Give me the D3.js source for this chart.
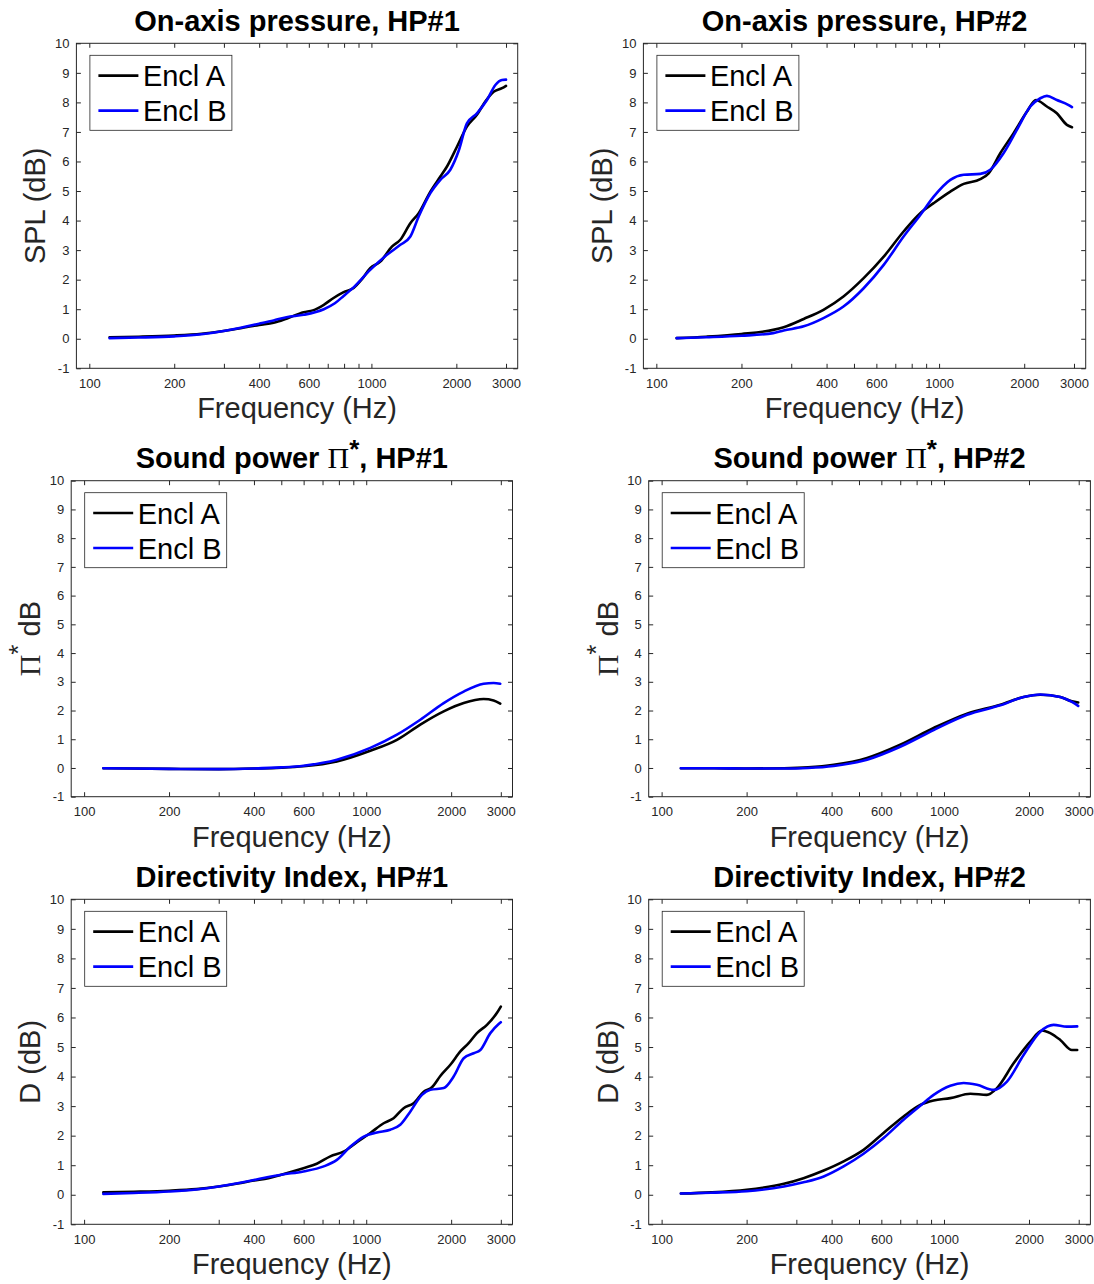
<!DOCTYPE html>
<html><head><meta charset="utf-8">
<script src="https://cdn.jsdelivr.net/npm/d3@7"></script>
<style>body{margin:0;background:#fff}</style>
</head><body>
<svg id="chart" width="1094" height="1284"></svg>
<script>
// ---------- data ----------
const xTickValues = [100,200,300,400,500,600,700,800,900,1000,2000,3000];
const xTickLabels = ["100","200","","400","","600","","","","1000","2000","3000"];
const yTickValues = [-1,0,1,2,3,4,5,6,7,8,9,10];
const seriesNames = ["Encl A","Encl B"];

// On-axis pressure, HP#1
const spl1A_f = [118,150,200,250,303,350,400,450,500,575,620,678,734,797,865,926,990,1075,1182,1266,1374,1471,1618,1755,1853,2010,2180,2366,2533,2712,2903,3000];
const spl1A_v = [0.05,0.07,0.11,0.17,0.27,0.37,0.47,0.54,0.68,0.90,0.96,1.15,1.38,1.58,1.72,2.02,2.39,2.61,3.12,3.35,3.91,4.25,4.98,5.49,5.83,6.50,7.18,7.58,8.03,8.36,8.48,8.56];
const spl1B_f = [118,150,200,250,303,350,400,450,500,575,678,742,797,877,990,1135,1266,1374,1471,1618,1755,1904,2040,2180,2366,2568,2750,2903,3000];
const spl1B_v = [0.02,0.04,0.08,0.15,0.27,0.39,0.51,0.62,0.73,0.81,1.00,1.20,1.45,1.80,2.33,2.84,3.18,3.46,4.14,4.93,5.38,5.72,6.37,7.29,7.63,8.08,8.59,8.76,8.77];

// On-axis pressure, HP#2
const spl2A_f = [118,150,200,259,282,332,390,459,541,637,749,858,957,1096,1222,1399,1497,1646,1835,2046,2200,2405,2609,2831,2951];
const spl2A_v = [0.02,0.07,0.16,0.30,0.39,0.67,0.98,1.43,2.05,2.78,3.63,4.25,4.59,4.98,5.24,5.40,5.60,6.28,6.96,7.69,8.08,7.86,7.63,7.24,7.16];
const spl2B_f = [118,150,200,259,282,332,390,459,541,637,749,858,957,1096,1222,1399,1517,1690,1884,2102,2280,2405,2609,2872,2951];
const spl2B_v = [0.02,0.05,0.10,0.19,0.28,0.42,0.70,1.09,1.71,2.50,3.46,4.19,4.81,5.38,5.55,5.58,5.72,6.28,7.07,7.86,8.14,8.22,8.08,7.91,7.84];

// Sound power, HP#1
const pow1A_f = [117,150,200,300,400,500,599,787,1034,1285,1555,1882,2216,2607,2829,2986];
const pow1A_v = [-0.01,-0.02,-0.03,-0.04,-0.02,0.01,0.06,0.23,0.60,0.98,1.51,1.97,2.26,2.40,2.35,2.24];
const pow1B_f = [117,150,200,300,400,500,599,787,1034,1285,1555,1882,2216,2607,2829,2986];
const pow1B_v = [-0.01,-0.02,-0.03,-0.04,-0.02,0.02,0.08,0.29,0.70,1.16,1.68,2.26,2.66,2.93,2.96,2.93];

// Sound power, HP#2
const pow2A_f = [117,150,200,271,330,407,534,700,919,1206,1583,1914,2193,2581,2838,2987];
const pow2A_v = [-0.01,-0.01,-0.02,-0.01,0.02,0.11,0.35,0.81,1.39,1.89,2.20,2.47,2.55,2.47,2.32,2.28];
const pow2B_f = [117,150,200,271,330,407,534,700,919,1206,1583,1914,2193,2581,2838,2987];
const pow2B_v = [-0.01,-0.01,-0.02,-0.02,0.00,0.07,0.29,0.74,1.32,1.85,2.18,2.47,2.56,2.47,2.30,2.16];

// Directivity index, HP#1
const di1A_f = [117,150,200,250,300,350,400,450,500,599,668,746,831,927,1034,1153,1250,1357,1472,1599,1710,1831,1987,2156,2307,2469,2679,2908,3000];
const di1A_v = [0.08,0.10,0.135,0.19,0.28,0.38,0.48,0.56,0.68,0.90,1.05,1.30,1.46,1.78,2.09,2.42,2.59,2.93,3.10,3.49,3.64,4.02,4.40,4.85,5.13,5.47,5.75,6.16,6.37];
const di1B_f = [117,150,200,250,300,350,400,450,500,599,707,787,879,980,1092,1217,1320,1434,1576,1687,1882,2041,2216,2403,2538,2754,2948,3000];
const di1B_v = [0.03,0.06,0.11,0.18,0.28,0.39,0.50,0.60,0.68,0.79,0.96,1.18,1.63,1.97,2.11,2.20,2.37,2.82,3.38,3.55,3.61,4.00,4.62,4.79,4.90,5.47,5.78,5.84];

// Directivity index, HP#2
const di2A_f = [117,150,200,271,318,375,441,519,611,719,824,919,1053,1240,1418,1540,1764,2022,2224,2379,2581,2838,2963];
const di2A_v = [0.04,0.08,0.17,0.37,0.56,0.82,1.13,1.52,2.09,2.65,3.04,3.19,3.27,3.42,3.38,3.61,4.45,5.18,5.56,5.47,5.24,4.90,4.90];
const di2B_f = [117,150,200,271,318,375,441,519,611,719,824,919,1053,1174,1308,1499,1671,1914,2193,2444,2724,2963];
const di2B_v = [0.04,0.07,0.12,0.28,0.42,0.62,0.96,1.39,1.92,2.54,3.01,3.38,3.69,3.78,3.72,3.55,3.83,4.73,5.52,5.75,5.69,5.70];

// ---------- layout ----------
const SANS = "'Liberation Sans', Arial, Helvetica, sans-serif";
const SERIF = "'Liberation Serif', 'Times New Roman', serif";
const AXC = "#262626";
const colors = ["#000000", "#0000ff"];

const panels = [
  {x0:76.4, x1:517.7, y0:43.3, y1:368.3,
   title:[{t:"On-axis pressure, HP#1"}], ylab:[{t:"SPL (dB)"}],
   A:[spl1A_f,spl1A_v], B:[spl1B_f,spl1B_v]},
  {x0:643.4, x1:1085.7, y0:43.3, y1:368.3,
   title:[{t:"On-axis pressure, HP#2"}], ylab:[{t:"SPL (dB)"}],
   A:[spl2A_f,spl2A_v], B:[spl2B_f,spl2B_v]},
  {x0:71.2, x1:512.5, y0:480.7, y1:796.7,
   title:[{t:"Sound power "},{t:"\u03A0",serif:true},{t:"*",sup:true},{t:", HP#1"}],
   ylab:[{t:"\u03A0",serif:true},{t:"*",sup:true},{t:" dB"}],
   A:[pow1A_f,pow1A_v], B:[pow1B_f,pow1B_v]},
  {x0:648.7, x1:1090.4, y0:480.7, y1:796.7,
   title:[{t:"Sound power "},{t:"\u03A0",serif:true},{t:"*",sup:true},{t:", HP#2"}],
   ylab:[{t:"\u03A0",serif:true},{t:"*",sup:true},{t:" dB"}],
   A:[pow2A_f,pow2A_v], B:[pow2B_f,pow2B_v]},
  {x0:71.2, x1:512.5, y0:899.3, y1:1224.3,
   title:[{t:"Directivity Index, HP#1"}], ylab:[{t:"D (dB)"}],
   A:[di1A_f,di1A_v], B:[di1B_f,di1B_v]},
  {x0:648.7, x1:1090.4, y0:899.3, y1:1224.3,
   title:[{t:"Directivity Index, HP#2"}], ylab:[{t:"D (dB)"}],
   A:[di2A_f,di2A_v], B:[di2B_f,di2B_v]}
];

const svg = d3.select("#chart");

function addParts(textSel, parts, raise) {
  let raised = false;
  parts.forEach(p => {
    const ts = textSel.append("tspan").text(p.t);
    if (p.serif) { ts.attr("font-family", SERIF).attr("font-weight", "normal").attr("font-size", 30); }
    if (p.sup) { ts.attr("dy", -raise).attr("font-size", 26); raised = true; }
    else if (raised) { ts.attr("dy", raise); raised = false; }
  });
}

panels.forEach(p => {
  const x = d3.scaleLog().domain([90, 3300]).range([p.x0, p.x1]);
  const y = d3.scaleLinear().domain([-1, 10]).range([p.y1, p.y0]);
  const g = svg.append("g");

  const styleAxis = sel => {
    sel.attr("color", AXC).attr("font-family", SANS).attr("font-size", 13);
    sel.select(".domain").remove();
    sel.selectAll(".tick line").attr("stroke-width", 1);
    sel.selectAll(".tick text").attr("fill", AXC);
  };
  g.append("g").attr("transform", `translate(0,${p.y1})`)
    .call(d3.axisBottom(x).tickValues(xTickValues).tickFormat((d,i)=>xTickLabels[i])
      .tickSizeInner(-4.5).tickSizeOuter(0).tickPadding(10.5)).call(styleAxis);
  g.append("g").attr("transform", `translate(0,${p.y0})`)
    .call(d3.axisTop(x).tickValues(xTickValues).tickFormat("")
      .tickSizeInner(-4.5).tickSizeOuter(0)).call(styleAxis);
  g.append("g").attr("transform", `translate(${p.x0},0)`)
    .call(d3.axisLeft(y).tickValues(yTickValues).tickFormat(d => String(d))
      .tickSizeInner(-4.5).tickSizeOuter(0).tickPadding(7)).call(styleAxis);
  g.append("g").attr("transform", `translate(${p.x1},0)`)
    .call(d3.axisRight(y).tickValues(yTickValues).tickFormat("")
      .tickSizeInner(-4.5).tickSizeOuter(0)).call(styleAxis);

  g.append("rect").attr("x", p.x0).attr("y", p.y0)
    .attr("width", p.x1 - p.x0).attr("height", p.y1 - p.y0)
    .attr("fill", "none").attr("stroke", AXC).attr("stroke-width", 1);

  const line = d3.line().x(d => x(d[0])).y(d => y(d[1])).curve(d3.curveMonotoneX);
  [p.A, p.B].forEach((s, i) => {
    const pts = s[0].map((f, k) => [f, s[1][k]]);
    g.append("path").datum(pts).attr("d", line)
      .attr("fill", "none").attr("stroke", colors[i]).attr("stroke-width", 2.6)
      .attr("stroke-linejoin", "round").attr("stroke-linecap", "round");
  });

  const cx = (p.x0 + p.x1) / 2, cy = (p.y0 + p.y1) / 2;
  const t = g.append("text").attr("x", cx).attr("y", p.y0 - 12.5)
    .attr("text-anchor", "middle").attr("font-family", SANS)
    .attr("font-weight", "bold").attr("font-size", 29).attr("fill", "#000");
  addParts(t, p.title, 10);

  g.append("text").attr("x", cx).attr("y", p.y1 + 50)
    .attr("text-anchor", "middle").attr("font-family", SANS)
    .attr("font-size", 29).attr("fill", AXC).text("Frequency (Hz)");
  const yl = g.append("text")
    .attr("transform", `translate(${p.x0 - 31},${cy}) rotate(-90)`)
    .attr("text-anchor", "middle").attr("font-family", SANS)
    .attr("font-size", 29).attr("fill", AXC);
  addParts(yl, p.ylab, 13);

  const lx = p.x0 + 13.5, ly = p.y0 + 12;
  const lg = g.append("g");
  lg.append("rect").attr("x", lx).attr("y", ly).attr("width", 142).attr("height", 75)
    .attr("fill", "#fff").attr("stroke", AXC).attr("stroke-width", 0.8);
  seriesNames.forEach((n, i) => {
    const ry = ly + 20.3 + i * 35;
    lg.append("line").attr("x1", lx + 8.5).attr("x2", lx + 48.5)
      .attr("y1", ry).attr("y2", ry).attr("stroke", colors[i]).attr("stroke-width", 2.6);
    lg.append("text").attr("x", lx + 53).attr("y", ry + 10.5)
      .attr("font-family", SANS).attr("font-size", 29).attr("fill", "#000").text(n);
  });
});
</script>
</body></html>
